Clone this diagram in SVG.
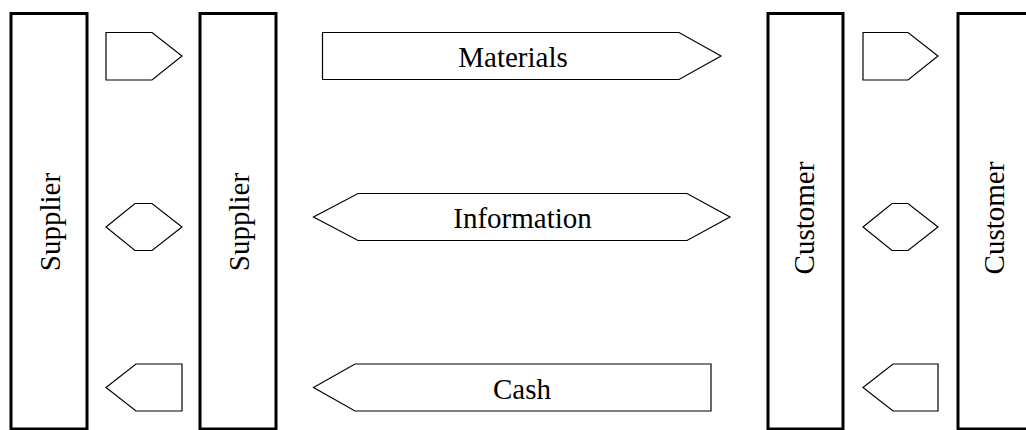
<svg xmlns="http://www.w3.org/2000/svg" width="1026" height="430" viewBox="0 0 1026 430">
  <style>
    .party { fill: #fff; stroke: #000; stroke-width: 3; }
    .flow { fill: #fff; stroke: #000; stroke-width: 1.2; stroke-linejoin: miter; }
  </style>
  <rect width="1026" height="430" fill="#fff"/>

  <g font-family="'Liberation Serif', serif" font-size="29" fill="#000" text-anchor="middle">
    <!-- Parties: tall boxes with vertical labels -->
    <g id="supplier-outer">
      <rect class="party" x="11" y="13.5" width="76" height="415.5"/>
      <text transform="translate(60,222) rotate(-90)">Supplier</text>
    </g>
    <g id="supplier-inner">
      <rect class="party" x="200" y="13.5" width="76" height="415.5"/>
      <text transform="translate(249,222) rotate(-90)">Supplier</text>
    </g>
    <g id="customer-inner">
      <rect class="party" x="768" y="13.5" width="75" height="415.5"/>
      <text transform="translate(814,218) rotate(-90)">Customer</text>
    </g>
    <g id="customer-outer">
      <rect class="party" x="958" y="13.5" width="80" height="415.5"/>
      <text transform="translate(1004,218) rotate(-90)">Customer</text>
    </g>

    <!-- Flows between parties -->
    <g id="connectors">
      <!-- outer supplier to inner supplier -->
      <polygon class="flow" points="106,32.5 152,32.5 182,56 152,80 106,80"/>
      <polygon class="flow" points="106,227 135,203.5 152,203.5 182,227 152,250.5 135,250.5"/>
      <polygon class="flow" points="106,387.5 136,364 182,364 182,411 136,411"/>
      <!-- inner customer to outer customer -->
      <polygon class="flow" points="863,32.5 908,32.5 938,56 908,80 863,80"/>
      <polygon class="flow" points="863,227 892,203.5 908,203.5 938,227 908,250.5 892,250.5"/>
      <polygon class="flow" points="863,387.5 893,364 938,364 938,411 893,411"/>
    </g>

    <g id="materials">
      <polygon class="flow" points="322.5,32.5 679,32.5 721,56 679,79.5 322.5,79.5"/>
      <text x="513" y="67">Materials</text>
    </g>
    <g id="information">
      <polygon class="flow" points="313.5,217 358,193.5 687,193.5 730,217 687,240.5 358,240.5"/>
      <text x="522.5" y="228">Information</text>
    </g>
    <g id="cash">
      <polygon class="flow" points="313.5,387.5 355,364 711,364 711,411 355,411"/>
      <text x="522" y="398.5">Cash</text>
    </g>
  </g>
</svg>
